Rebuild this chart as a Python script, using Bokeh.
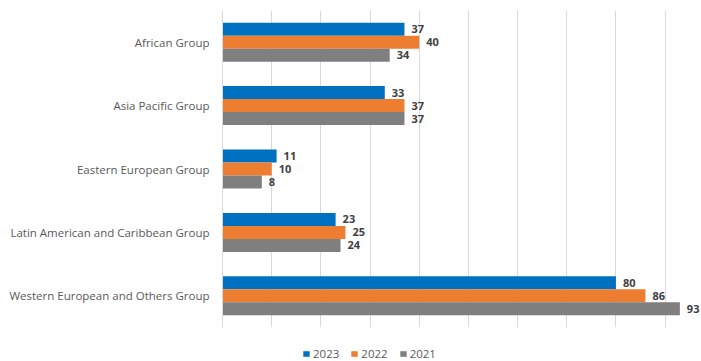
from bokeh.plotting import figure
from bokeh.layouts import column
from bokeh.models import FactorRange, Range1d, FixedTicker, ColumnDataSource, Legend, LegendItem
from bokeh.transform import dodge
from bokeh.core.properties import value
from bokeh.embed import file_html
from bokeh.resources import INLINE

groups = ["African Group", "Asia Pacific Group", "Eastern European Group",
          "Latin American and Caribbean Group", "Western European and Others Group"]
years = ["2023", "2022", "2021"]
v2023 = [37, 33, 11, 23, 80]
v2022 = [40, 37, 10, 25, 86]
v2021 = [34, 37, 8, 24, 93]
series = [v2023, v2022, v2021]
colors = ["#0070C0", "#ED7D31", "#7F7F7F"]
grid_ticks = [10, 20, 30, 40, 50, 60, 70, 80, 90]

FONT = "Open Sans"

p = figure(width=701, height=334,
           y_range=FactorRange(factors=groups[::-1]),
           x_range=Range1d(0, 97.4),
           output_backend="svg", toolbar_location=None,
           min_border_left=222, min_border_right=0,
           min_border_top=10, min_border_bottom=7)

p.outline_line_color = None
p.background_fill_color = "white"
p.xaxis.visible = False
p.ygrid.grid_line_color = None
p.xgrid.ticker = FixedTicker(ticks=grid_ticks)
p.xgrid.grid_line_color = "#D9D9D9"
p.xgrid.grid_line_width = 1

ax = p.yaxis[0]
ax.axis_line_color = "#D9D9D9"
ax.major_tick_line_color = None
ax.minor_tick_line_color = None
ax.major_tick_out = 0
ax.major_tick_in = 0
ax.major_label_standoff = 13
ax.major_label_text_font = FONT
ax.major_label_text_font_size = "11.5px"
ax.major_label_text_color = "#595959"

# legend strip below the chart (shares the x range; its copies of the bars are hidden)
lf = figure(width=701, height=27, x_range=p.x_range,
            y_range=FactorRange(factors=groups[::-1]),
            output_backend="svg", toolbar_location=None,
            min_border_left=222, min_border_right=0, min_border_top=0, min_border_bottom=0)
lf.axis.visible = False
lf.grid.visible = False
lf.outline_line_color = None

bar_h = 0.205
offsets = [bar_h, 0.0, -bar_h]
items = []
for yr, vals, col, off in zip(years, series, colors, offsets):
    src = ColumnDataSource(dict(cat=groups, v=vals, lbl=[str(x) for x in vals]))
    p.hbar(y=dodge("cat", off, range=p.y_range), left=0, right="v", height=bar_h,
           fill_color=col, line_color=None, source=src)
    p.text(x="v", y=dodge("cat", off, range=p.y_range), text="lbl", source=src,
           x_offset=7, text_align="left", text_baseline="middle",
           text_font=value(FONT), text_font_style="bold", text_font_size="11px",
           text_color="#404040")
    r = lf.hbar(y="cat", left=0, right="v", height=bar_h, fill_color=col,
                line_color=None, source=src, visible=False)
    items.append(LegendItem(label=yr, renderers=[r]))

legend = Legend(items=items, orientation="horizontal", location=(80, 0),
                background_fill_alpha=0, border_line_color=None,
                padding=0, margin=0, spacing=11, label_standoff=3,
                glyph_width=8, glyph_height=7, label_height=8,
                label_text_font=FONT, label_text_font_size="11.5px",
                label_text_color="#595959")
lf.add_layout(legend)

layout = column(p, lf, spacing=0)
open("out.html", "w").write(file_html(layout, INLINE))
